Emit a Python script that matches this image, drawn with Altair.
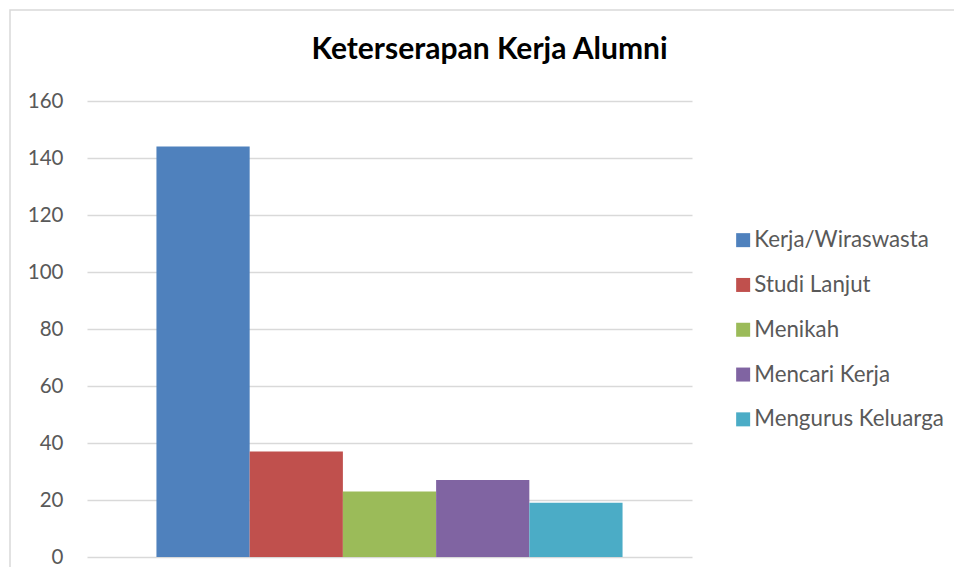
import altair as alt
import pandas as pd

categories = ["Kerja/Wiraswasta", "Studi Lanjut", "Menikah", "Mencari Kerja", "Mengurus Keluarga"]
values = [144, 37, 23, 27, 19]
colors = ["#4F81BD", "#C0504D", "#9BBB59", "#8064A2", "#4BACC6"]
y_ticks = [0, 20, 40, 60, 80, 100, 120, 140, 160]

df = pd.DataFrame({"Kategori": categories, "Jumlah": values})
frame_df = pd.DataFrame({"f": [0]})

FONT = "Lato"

frame = alt.Chart(frame_df).mark_rect(
    filled=False, stroke="#d9d9d9", strokeWidth=1.5
).encode(
    x=alt.value(-77), x2=alt.value(1000), y=alt.value(-91), y2=alt.value(700)
)

bars = alt.Chart(df).mark_bar().encode(
    x=alt.X("Kategori:N", sort=categories, axis=None,
            scale=alt.Scale(paddingInner=0, paddingOuter=0.745)),
    y=alt.Y("Jumlah:Q",
            scale=alt.Scale(domain=[0, 160], nice=False),
            axis=alt.Axis(values=y_ticks, title=None, domain=False, ticks=False,
                          grid=True, gridColor="#d9d9d9", gridWidth=1.5,
                          labelFont=FONT, labelFontSize=20.5, labelColor="#595959",
                          labelPadding=24)),
    color=alt.Color("Kategori:N", sort=categories,
                    scale=alt.Scale(domain=categories, range=colors),
                    legend=alt.Legend(title=None, orient="none", legendX=645, legendY=128,
                                      symbolType="square", symbolSize=196,
                                      symbolStrokeWidth=0, symbolOpacity=1,
                                      labelFont=FONT, labelFontSize=22.3,
                                      labelColor="#595959", labelOffset=0,
                                      labelLimit=400,
                                      rowPadding=21.8, padding=0)),
)

chart = alt.layer(frame, bars).properties(
    width=605,
    height=456,
    autosize=alt.AutoSizeParams(type="none"),
    padding={"left": 79, "top": 93, "right": 262, "bottom": 10},
    title=alt.TitleParams("Keterserapan Kerja Alumni", font=FONT, fontSize=30,
                          fontWeight="bold", color="#000000", anchor="middle",
                          baseline="alphabetic",
                          dx=100, offset=0, dy=80),
).configure_view(stroke=None)

chart.save("out.html", embed_options={"renderer": "svg", "actions": False})
